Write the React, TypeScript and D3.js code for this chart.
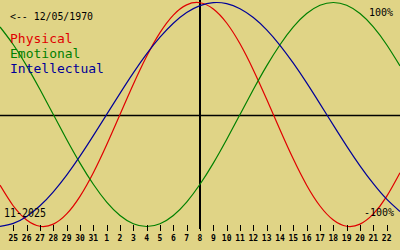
import React from "react";
import * as d3 from "d3";

const dayOffsets = [-15,-14,-13,-12,-11,-10,-9,-8,-7,-6,-5,-4,-3,-2,-1,0,1,2,3,4,5,6,7,8,9,10,11,12,13,14,15];
const physical = [-0.631,-0.817,-0.942,-0.998,-0.979,-0.888,-0.731,-0.520,-0.270,0,0.270,0.520,0.731,0.888,0.979,0.998,0.942,0.817,0.631,0.398,0.136,-0.136,-0.398,-0.631,-0.817,-0.942,-0.998,-0.979,-0.888,-0.731,-0.520];
const emotional = [0.782,0.623,0.434,0.223,0,-0.223,-0.434,-0.623,-0.782,-0.901,-0.975,-1,-0.975,-0.901,-0.782,-0.623,-0.434,-0.223,0,0.223,0.434,0.623,0.782,0.901,0.975,1,0.975,0.901,0.782,0.623,0.434];
const intellectual = [-0.999,-0.972,-0.910,-0.815,-0.690,-0.541,-0.372,-0.189,0,0.189,0.372,0.541,0.690,0.815,0.910,0.972,0.999,0.990,0.945,0.866,0.756,0.618,0.458,0.282,0.095,-0.095,-0.282,-0.458,-0.618,-0.756,-0.866];
const tickOffsets = [-14,-13,-12,-11,-10,-9,-8,-7,-6,-5,-4,-3,-2,-1,0,1,2,3,4,5,6,7,8,9,10,11,12,13,14];
const tickLabels = ["25","26","27","28","29","30","31","1","2","3","4","5","6","7","8","9","10","11","12","13","14","15","16","17","18","19","20","21","22"];
const seriesNames = ["Physical","Emotional","Intellectual"];
const seriesColors = ["#e00000","#008000","#000098"];
const birthLabel = "<-- 12/05/1970";
const monthLabel = "11-2025";

const W = 400, H = 250;

export default function App() {
  const x = d3.scaleLinear().domain([-15, 15]).range([0, 400]);
  const y = d3.scaleLinear().domain([-1, 1]).range([226.5, 2.5]);
  const line = d3.line<number>()
    .x((_, i) => x(dayOffsets[i]))
    .y((v) => y(v))
    .curve(d3.curveNatural);
  const allSeries = [physical, emotional, intellectual];
  const mono = "'DejaVu Sans Mono', monospace";
  return (
    <div style={{ position: "fixed", left: 0, top: 0 }}>
      <svg width={W} height={H} style={{ display: "block" }}>
        <rect x={0} y={0} width={W} height={H} fill="#e0d486" />
        <line x1={0} x2={W} y1={y(0) + 1} y2={y(0) + 1} stroke="#000" strokeWidth={1.5} />
        <line x1={x(0)} x2={x(0)} y1={0} y2={229} stroke="#000" strokeWidth={2} />
        {allSeries.map((s, i) => (
          <path key={i} d={line(s) || ""} fill="none" stroke={seriesColors[i]} strokeWidth={1.2} />
        ))}
        {tickOffsets.map((t, i) => (
          <g key={t}>
            <line x1={Math.round(x(t)) + 0.5} x2={Math.round(x(t)) + 0.5} y1={225} y2={231} stroke="#000" strokeWidth={1} />
            <text x={x(t)} y={240.5} textAnchor="middle" fontFamily={mono} fontWeight="bold" fontSize={8} fill="#000">{tickLabels[i]}</text>
          </g>
        ))}
        <text x={10} y={20} fontFamily={mono} fontSize={10} fill="#000" textLength={83} lengthAdjust="spacingAndGlyphs">{birthLabel}</text>
        {seriesNames.map((n, i) => (
          <text key={n} x={10} y={42.5 + i * 15} fontFamily={mono} fontSize={13} fill={seriesColors[i]}>{n}</text>
        ))}
        <text x={393} y={16} textAnchor="end" fontFamily={mono} fontSize={10} fill="#000">100%</text>
        <text x={394} y={215.5} textAnchor="end" fontFamily={mono} fontSize={10} fill="#000">-100%</text>
        <text x={4} y={217.3} fontFamily={mono} fontSize={12} fill="#000" textLength={42} lengthAdjust="spacingAndGlyphs">{monthLabel}</text>
      </svg>
    </div>
  );
}
